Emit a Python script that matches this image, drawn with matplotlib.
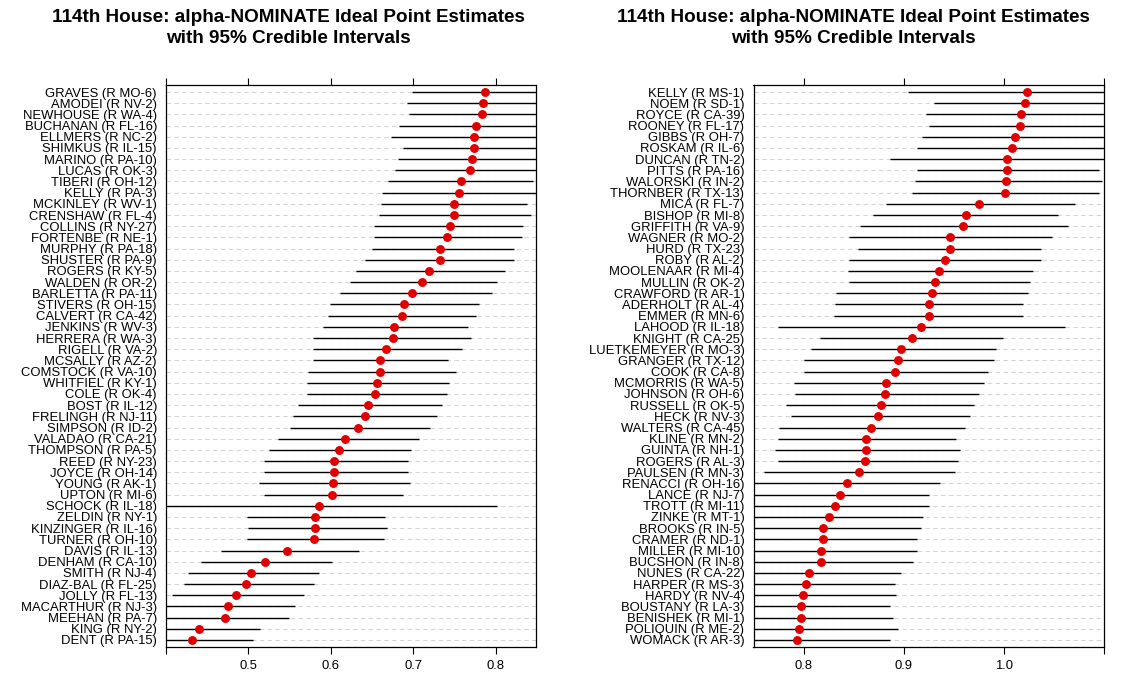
import matplotlib
matplotlib.use("Agg")
import matplotlib.pyplot as plt
import numpy as np

plt.rcParams['font.family'] = ['Liberation Sans', 'DejaVu Sans']

title_text = "114th House: alpha-NOMINATE Ideal Point Estimates\nwith 95% Credible Intervals"

# ---------- Left panel ----------
left_names = [
    "GRAVES (R MO-6)", "AMODEI (R NV-2)", "NEWHOUSE (R WA-4)", "BUCHANAN (R FL-16)",
    "ELLMERS (R NC-2)", "SHIMKUS (R IL-15)", "MARINO (R PA-10)", "LUCAS (R OK-3)",
    "TIBERI (R OH-12)", "KELLY (R PA-3)", "MCKINLEY (R WV-1)", "CRENSHAW (R FL-4)",
    "COLLINS (R NY-27)", "FORTENBE (R NE-1)", "MURPHY (R PA-18)", "SHUSTER (R PA-9)",
    "ROGERS (R KY-5)", "WALDEN (R OR-2)", "BARLETTA (R PA-11)", "STIVERS (R OH-15)",
    "CALVERT (R CA-42)", "JENKINS (R WV-3)", "HERRERA (R WA-3)", "RIGELL (R VA-2)",
    "MCSALLY (R AZ-2)", "COMSTOCK (R VA-10)", "WHITFIEL (R KY-1)", "COLE (R OK-4)",
    "BOST (R IL-12)", "FRELINGH (R NJ-11)", "SIMPSON (R ID-2)", "VALADAO (R CA-21)",
    "THOMPSON (R PA-5)", "REED (R NY-23)", "JOYCE (R OH-14)", "YOUNG (R AK-1)",
    "UPTON (R MI-6)", "SCHOCK (R IL-18)", "ZELDIN (R NY-1)", "KINZINGER (R IL-16)",
    "TURNER (R OH-10)", "DAVIS (R IL-13)", "DENHAM (R CA-10)", "SMITH (R NJ-4)",
    "DIAZ-BAL (R FL-25)", "JOLLY (R FL-13)", "MACARTHUR (R NJ-3)", "MEEHAN (R PA-7)",
    "KING (R NY-2)", "DENT (R PA-15)",
]
left_est = [
    0.7866, 0.7845, 0.7836, 0.7758, 0.7737, 0.7732, 0.7719, 0.7689,
    0.7577, 0.7555, 0.7495, 0.7495, 0.7447, 0.7408, 0.7326, 0.7326,
    0.7196, 0.7105, 0.6984, 0.6889, 0.6863, 0.6768, 0.6751, 0.6669,
    0.6600, 0.6591, 0.6561, 0.6535, 0.6453, 0.6414, 0.6332, 0.6172,
    0.6102, 0.6042, 0.6042, 0.6029, 0.6016, 0.5860, 0.5808, 0.5808,
    0.5791, 0.5471, 0.5203, 0.5035, 0.4974, 0.4853, 0.4758, 0.4719,
    0.4395, 0.4321,
]
left_lo = [
    0.6984, 0.6920, 0.6950, 0.6829, 0.6725, 0.6876, 0.6816, 0.6781,
    0.6695, 0.6626, 0.6613, 0.6587, 0.6526, 0.6526, 0.6496, 0.6418,
    0.6310, 0.6236, 0.6115, 0.5994, 0.5968, 0.5908, 0.5787, 0.5778,
    0.5787, 0.5718, 0.5705, 0.5705, 0.5597, 0.5545, 0.5510, 0.5363,
    0.5255, 0.5195, 0.5195, 0.5134, 0.5195, 0.3900, 0.4978, 0.5000,
    0.4978, 0.4663, 0.4421, 0.4265, 0.4213, 0.4075, 0.3950, 0.3930,
    0.3900, 0.3880,
]
left_hi = [
    0.8700, 0.8700, 0.8700, 0.8700, 0.8700, 0.8700, 0.8700, 0.8700,
    0.8459, 0.8550, 0.8377, 0.8424, 0.8338, 0.8325, 0.8217, 0.8217,
    0.8109, 0.8022, 0.7957, 0.7793, 0.7758, 0.7659, 0.7698, 0.7590,
    0.7417, 0.7516, 0.7430, 0.7408, 0.7348, 0.7283, 0.7201, 0.7067,
    0.6971, 0.6933, 0.6933, 0.6963, 0.6872, 0.8013, 0.6656, 0.6686,
    0.6643, 0.6340, 0.6016, 0.5856, 0.5796, 0.5674, 0.5566, 0.5493,
    0.5143, 0.5056,
]
left_xticks = [0.4, 0.5, 0.6, 0.7, 0.8]
left_xticklabels = ["", "0.5", "0.6", "0.7", "0.8"]
left_xlim = (0.4, 0.849)

# ---------- Right panel ----------
right_names = [
    "KELLY (R MS-1)", "NOEM (R SD-1)", "ROYCE (R CA-39)", "ROONEY (R FL-17)",
    "GIBBS (R OH-7)", "ROSKAM (R IL-6)", "DUNCAN (R TN-2)", "PITTS (R PA-16)",
    "WALORSKI (R IN-2)", "THORNBER (R TX-13)", "MICA (R FL-7)", "BISHOP (R MI-8)",
    "GRIFFITH (R VA-9)", "WAGNER (R MO-2)", "HURD (R TX-23)", "ROBY (R AL-2)",
    "MOOLENAAR (R MI-4)", "MULLIN (R OK-2)", "CRAWFORD (R AR-1)", "ADERHOLT (R AL-4)",
    "EMMER (R MN-6)", "LAHOOD (R IL-18)", "KNIGHT (R CA-25)", "LUETKEMEYER (R MO-3)",
    "GRANGER (R TX-12)", "COOK (R CA-8)", "MCMORRIS (R WA-5)", "JOHNSON (R OH-6)",
    "RUSSELL (R OK-5)", "HECK (R NV-3)", "WALTERS (R CA-45)", "KLINE (R MN-2)",
    "GUINTA (R NH-1)", "ROGERS (R AL-3)", "PAULSEN (R MN-3)", "RENACCI (R OH-16)",
    "LANCE (R NJ-7)", "TROTT (R MI-11)", "ZINKE (R MT-1)", "BROOKS (R IN-5)",
    "CRAMER (R ND-1)", "MILLER (R MI-10)", "BUCSHON (R IN-8)", "NUNES (R CA-22)",
    "HARPER (R MS-3)", "HARDY (R NV-4)", "BOUSTANY (R LA-3)", "BENISHEK (R MI-1)",
    "POLIQUIN (R ME-2)", "WOMACK (R AR-3)",
]
right_est = [
    1.0232, 1.0210, 1.0168, 1.0157, 1.0111, 1.0078, 1.0029, 1.0029,
    1.0018, 1.0011, 0.9750, 0.9619, 0.9590, 0.9462, 0.9462, 0.9412,
    0.9351, 0.9312, 0.9280, 0.9251, 0.9251, 0.9176, 0.9080, 0.8970,
    0.8941, 0.8913, 0.8824, 0.8813, 0.8770, 0.8742, 0.8670, 0.8624,
    0.8624, 0.8617, 0.8553, 0.8431, 0.8364, 0.8314, 0.8253, 0.8193,
    0.8193, 0.8171, 0.8171, 0.8053, 0.8021, 0.7993, 0.7971, 0.7971,
    0.7950, 0.7932,
]
right_lo = [
    0.9041, 0.9300, 0.9223, 0.9248, 0.9184, 0.9137, 0.8863, 0.9137,
    0.9112, 0.9087, 0.8824, 0.8695, 0.8563, 0.8453, 0.8545, 0.8449,
    0.8439, 0.8449, 0.8324, 0.8314, 0.8303, 0.7743, 0.8164, 0.8075,
    0.8000, 0.8000, 0.7907, 0.7914, 0.7825, 0.7875, 0.7754, 0.7743,
    0.7715, 0.7743, 0.7608, 0.7400, 0.7400, 0.7400, 0.7400, 0.7400,
    0.7400, 0.7400, 0.7400, 0.7400, 0.7400, 0.7400, 0.7400, 0.7400,
    0.7400, 0.7400,
]
right_hi = [
    1.1200, 1.1200, 1.1200, 1.1200, 1.1200, 1.1200, 1.1200, 1.0955,
    1.0977, 1.0955, 1.0713, 1.0545, 1.0645, 1.0478, 1.0371, 1.0371,
    1.0296, 1.0257, 1.0246, 1.0196, 1.0189, 1.0606, 0.9989, 0.9922,
    0.9897, 0.9840, 0.9797, 0.9747, 0.9697, 0.9658, 0.9608, 0.9519,
    0.9558, 0.9540, 0.9508, 0.9358, 0.9248, 0.9248, 0.9191, 0.9173,
    0.9130, 0.9130, 0.9091, 0.8970, 0.8909, 0.8920, 0.8859, 0.8898,
    0.8941, 0.8859,
]
right_xticks = [0.8, 0.9, 1.0, 1.1]
right_xticklabels = ["0.8", "0.9", "1.0", ""]
right_xlim = (0.75, 1.1)

W, H = 1136, 693
fig = plt.figure(figsize=(W / 100, H / 100), dpi=100)


def panel(rect, names, est, lo, hi, xlim, xticks, xticklabels, title_x):
    ax = fig.add_axes(rect)
    n = len(names)
    y = np.arange(1, n + 1)
    for yy in y:
        ax.axhline(yy, color="#d4d4d4", lw=0.8, ls=(0, (4, 3)), zorder=1)
    ax.hlines(y, lo, hi, color="black", lw=1.0, zorder=2)
    ax.plot(est, y, "o", color="#e00000", ms=5.4, mec="#e00000", zorder=3)
    ax.set_xlim(*xlim)
    ax.set_ylim(n + 0.63, 0.37)
    ax.set_yticks(y)
    ax.set_yticklabels(names, fontsize=9.4)
    ax.set_xticks(xticks)
    ax.set_xticklabels(xticklabels, fontsize=9.4)
    ax.tick_params(axis="y", length=0, pad=6.5)
    ax.tick_params(axis="x", direction="out", length=5, width=0.8,
                   top=True, labeltop=False, pad=4.5)
    for s in ax.spines.values():
        s.set_linewidth(0.9)
    fig.text(title_x, 1 - 28 / H, title_text, ha="center", va="center",
             fontsize=13.6, fontweight="bold", linespacing=1.25)
    return ax


panel([166 / W, 1 - 647 / H, 370 / W, 562 / H], left_names, left_est, left_lo,
      left_hi, left_xlim, left_xticks, left_xticklabels, 288 / W)
panel([753.5 / W, 1 - 647 / H, 350.5 / W, 562 / H], right_names, right_est,
      right_lo, right_hi, right_xlim, right_xticks, right_xticklabels, 853 / W)

fig.savefig("out.png", dpi=100)
